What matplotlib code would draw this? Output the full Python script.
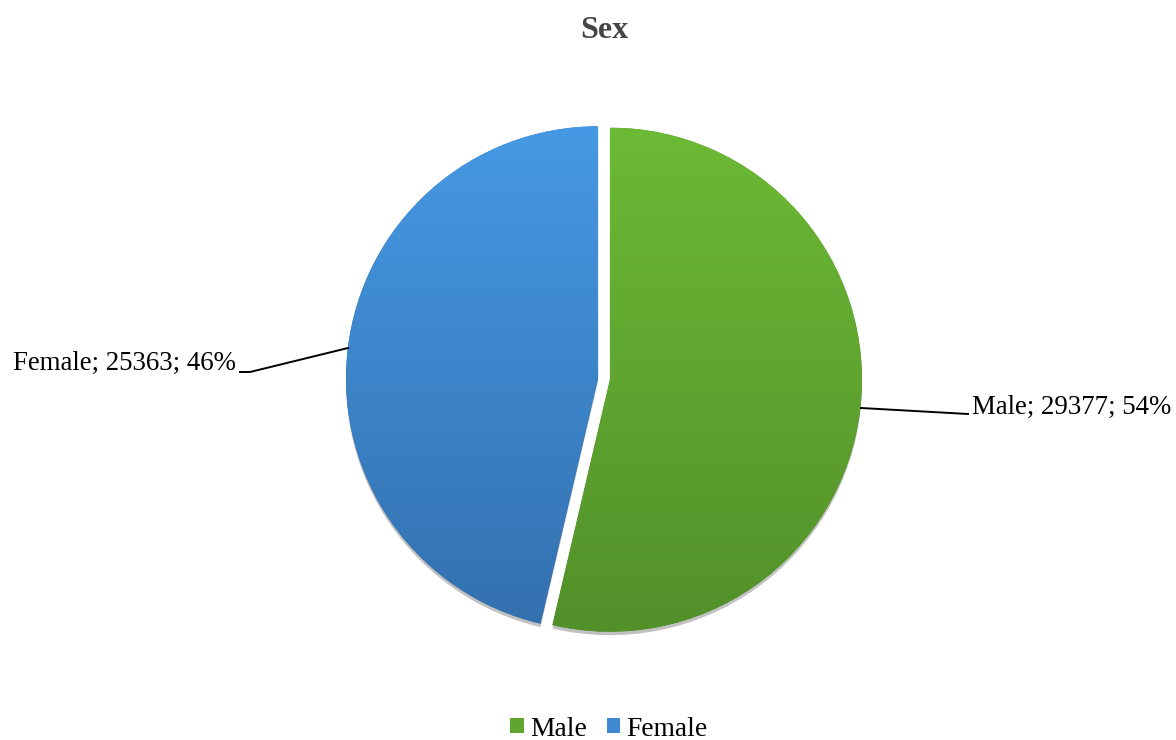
import numpy as np
import matplotlib
matplotlib.use('Agg')
import matplotlib.pyplot as plt
import matplotlib.patheffects as pe
from matplotlib.colors import LinearSegmentedColormap
from matplotlib.patches import Patch

# data
labels = ['Male', 'Female']
counts = [29377, 25363]
percents = [54, 46]

# gradient colors (top, bottom) for each slice
top_colors = ['#6cba35', '#4699e4']
bottom_colors = ['#52902a', '#3370ae']

W, H = 1176, 740
CENTER = (604, H - 379)   # pixel coords with y flipped
RADIUS = 252

plt.rcParams['font.family'] = ['Liberation Serif', 'DejaVu Serif']

fig = plt.figure(figsize=(W / 100, H / 100), dpi=100)
ax = fig.add_axes([0, 0, 1, 1])

shadow = [pe.SimplePatchShadow(offset=(0, -2.5), shadow_rgbFace='#999999', alpha=0.6), pe.Normal()]
wedges, _ = ax.pie(counts, startangle=90, counterclock=False,
                   center=CENTER, radius=RADIUS, explode=[6, 6],
                   colors=bottom_colors, frame=True,
                   wedgeprops=dict(linewidth=0, path_effects=shadow))

# vertical gradient fill clipped to each wedge
for w, c1, c2 in zip(wedges, top_colors, bottom_colors):
    cmap = LinearSegmentedColormap.from_list('g', [c2, c1])
    cx, cy = w.center
    grad = np.linspace(0, 1, 256).reshape(-1, 1)
    im = ax.imshow(grad, cmap=cmap, origin='lower', aspect='auto',
                   extent=(cx - RADIUS, cx + RADIUS, cy - RADIUS, cy + RADIUS),
                   zorder=w.get_zorder() + 0.1)
    im.set_clip_path(w)

ax.set_xlim(0, W)
ax.set_ylim(0, H)
ax.set_aspect('equal')
ax.axis('off')

# data labels with leader lines
label_fs = 19.4
ax.text(972, H - 407, f'{labels[0]}; {counts[0]}; {percents[0]}%', fontsize=label_fs,
        ha='left', va='center', color='black')
ax.plot([861, 968], [H - 408, H - 414], color='black', lw=1.4)
ax.text(236, H - 363, f'{labels[1]}; {counts[1]}; {percents[1]}%', fontsize=label_fs,
        ha='right', va='center', color='black')
ax.plot([240, 250, 348], [H - 372, H - 372, H - 348], color='black', lw=1.4)

ax.text(604, H - 31, 'Sex', fontsize=23, fontweight='bold', color='#454545',
        ha='center', va='center')

handles = [Patch(facecolor=c1, edgecolor='none') for c1 in ['#5fa530', '#3f88d2']]
fig.legend(handles, labels, loc='center', bbox_to_anchor=(0.518, 1 - 729 / H), ncol=2,
           frameon=False, fontsize=19.8, handlelength=0.48, handleheight=0.48,
           handletextpad=0.25, columnspacing=0.7, borderpad=0)

fig.savefig('out.png', dpi=100)
